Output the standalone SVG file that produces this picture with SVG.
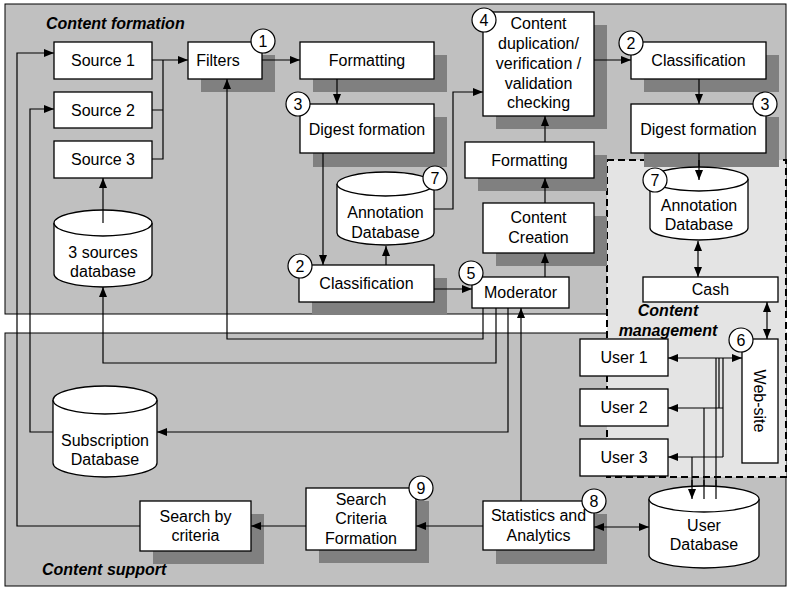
<svg xmlns="http://www.w3.org/2000/svg" width="789" height="589" viewBox="0 0 789 589">
<defs>
<marker id="ah" viewBox="0 0 10 8" refX="10" refY="4" markerWidth="10" markerHeight="8" markerUnits="userSpaceOnUse" orient="auto-start-reverse"><path d="M0,0 L10,4 L0,8 z" fill="#000"/></marker>
</defs>
<style>
text{font-family:"Liberation Sans",Arial,sans-serif;font-size:16px;fill:#000;text-anchor:middle}
.lbl{font-weight:bold;font-style:italic;text-anchor:start}
.lblc{font-weight:bold;font-style:italic}
.box{fill:#fff;stroke:#000;stroke-width:1.3}
.sh{fill:#808080}
.badge{fill:#fff;stroke:#000;stroke-width:1.2}
.cn{fill:none;stroke:#000;stroke-width:1.2}
.a{marker-end:url(#ah)}
.d{marker-start:url(#ah);marker-end:url(#ah)}
</style>
<rect width="789" height="589" fill="#fff"/>
<g id="panels">
<rect x="5" y="4" width="781" height="310" fill="#c0c0c0" stroke="#000" stroke-width="1"/>
<rect x="5" y="333" width="781" height="253" fill="#c0c0c0" stroke="#000" stroke-width="1"/>
<rect x="607" y="160" width="179" height="317" fill="#e4e4e4" stroke="#000" stroke-width="2" stroke-dasharray="7,4"/>
<text class="lbl" x="46" y="29">Content formation</text>
<text class="lbl" x="42" y="575">Content support</text>
</g>
<g id="shadows">
<rect class="sh" x="201" y="55" width="74" height="37"/>
<rect class="sh" x="313" y="55" width="134" height="37"/>
<rect class="sh" x="313" y="117" width="134" height="50"/>
<rect class="sh" x="312" y="278" width="135" height="37"/>
<rect class="sh" x="496" y="25" width="111" height="104"/>
<rect class="sh" x="478" y="155" width="129" height="36"/>
<rect class="sh" x="496" y="216" width="111" height="50"/>
<rect class="sh" x="644" y="55" width="135" height="37"/>
<rect class="sh" x="644" y="117" width="135" height="50"/>
<rect class="sh" x="153" y="514" width="111" height="50"/>
<rect class="sh" x="319" y="501" width="110" height="62"/>
<rect class="sh" x="496" y="514" width="111" height="50"/>
</g>
<g id="connectors">
<path class="cn a" d="M152,60 H188"/>
<path class="cn" d="M152,110 H163 V60 M152,159 H163 V110"/>
<path class="cn a" d="M262,60 H300"/>
<path class="cn a" d="M337,79 V104"/>
<path class="cn a" d="M323,153 V265"/>
<path class="cn a" d="M386,265 V246"/>
<path class="cn a" d="M434,289 H472"/>
<path class="cn a" d="M434,209 H453 V92 H483"/>
<path class="cn a" d="M545,277 V253"/>
<path class="cn a" d="M545,203 V178"/>
<path class="cn a" d="M545,142 V116"/>
<path class="cn a" d="M594,60 H631"/>
<path class="cn a" d="M699,79 V104"/>
<path class="cn a" d="M699,153 V180"/>
<path class="cn d" d="M698,241 V277"/>
<path class="cn d" d="M767,302 V339"/>
<path class="cn d" d="M668,358 H742"/>
<path class="cn" d="M723,358 V457 M719,358 V408"/>
<path class="cn a" d="M723,408 H668"/>
<path class="cn a" d="M723,457 H668"/>
<path class="cn a" d="M716,358 V499"/>
<path class="cn a" d="M704,408 V499"/>
<path class="cn a" d="M692,457 V499"/>
<path class="cn d" d="M594,527 H649"/>
<path class="cn a" d="M521,501 V308"/>
<path class="cn a" d="M483,526 H416"/>
<path class="cn a" d="M306,526 H251"/>
<path class="cn a" d="M140,526 H17 V53 H54"/>
<path class="cn a" d="M53,432 H30 V109 H54"/>
<path class="cn a" d="M496,308 V363 H103 V287"/>
<path class="cn a" d="M483,308 V339 H227 V79"/>
<path class="cn a" d="M508,308 V432 H157"/>
</g>
<g id="source1"><rect class="box" x="54" y="42" width="98" height="37"/><text x="103" y="66">Source 1</text></g>
<g id="source2"><rect class="box" x="54" y="92" width="98" height="36"/><text x="103" y="116">Source 2</text></g>
<g id="source3"><rect class="box" x="54" y="141" width="98" height="37"/><text x="103" y="165">Source 3</text></g>
<g id="sources-db">
<path class="box" d="M54,223 V274 A49,13 0 0 0 152,274 V223"/>
<ellipse class="box" cx="103" cy="223" rx="49" ry="13"/>
<text x="103" y="258">3 sources</text><text x="103" y="277">database</text>
<path class="cn a" d="M103,223 V178"/>
</g>
<g id="filters"><rect class="box" x="188" y="42" width="74" height="37"/><text x="218" y="66">Filters</text>
<circle class="badge" cx="263" cy="41" r="12"/><text x="263" y="47">1</text></g>
<g id="formatting1"><rect class="box" x="300" y="42" width="134" height="37"/><text x="367" y="66">Formatting</text></g>
<g id="digest1"><rect class="box" x="300" y="104" width="134" height="49"/><text x="367" y="135">Digest formation</text>
<circle class="badge" cx="298" cy="104" r="12"/><text x="298" y="110">3</text></g>
<g id="annotation-db1">
<path class="box" d="M337,184 V233 A48.5,12 0 0 0 434,233 V184"/>
<ellipse class="box" cx="385.5" cy="184" rx="48.5" ry="12"/>
<text x="385.5" y="218">Annotation</text><text x="385.5" y="238">Database</text>
<circle class="badge" cx="435" cy="178" r="12"/><text x="435" y="184">7</text></g>
<g id="classification1"><rect class="box" x="299" y="265" width="135" height="37"/><text x="366.5" y="289">Classification</text>
<circle class="badge" cx="300" cy="266" r="12"/><text x="300" y="272">2</text></g>
<g id="moderator"><rect class="box" x="472" y="277" width="97" height="31"/><text x="520.5" y="298">Moderator</text>
<circle class="badge" cx="471" cy="273" r="12"/><text x="471" y="279">5</text></g>
<g id="content-creation"><rect class="box" x="483" y="203" width="111" height="50"/><text x="538.5" y="223">Content</text><text x="538.5" y="243">Creation</text></g>
<g id="formatting2"><rect class="box" x="465" y="142" width="129" height="36"/><text x="529.5" y="166">Formatting</text></g>
<g id="content-dup"><rect class="box" x="483" y="12" width="111" height="104"/>
<text x="538.5" y="29">Content</text><text x="538.5" y="49">duplication/</text><text x="538.5" y="69">verification /</text><text x="538.5" y="89">validation</text><text x="538.5" y="108">checking</text>
<circle class="badge" cx="484" cy="20" r="12"/><text x="484" y="26">4</text></g>
<g id="classification2"><rect class="box" x="631" y="42" width="135" height="37"/><text x="698.5" y="66">Classification</text>
<circle class="badge" cx="631" cy="43" r="12"/><text x="631" y="49">2</text></g>
<g id="digest2"><rect class="box" x="631" y="104" width="135" height="49"/><text x="698.5" y="135">Digest formation</text>
<circle class="badge" cx="765" cy="104" r="12"/><text x="765" y="110">3</text></g>
<g id="annotation-db2">
<path class="box" d="M650,179 V228 A49,12 0 0 0 748,228 V179"/>
<ellipse class="box" cx="699" cy="179" rx="49" ry="12"/>
<text x="699" y="211">Annotation</text><text x="699" y="230">Database</text>
<circle class="badge" cx="655" cy="180" r="12"/><text x="655" y="186">7</text>
<path class="cn a" d="M699,160 V180"/></g>
<g id="cash"><rect class="box" x="643" y="277" width="135" height="25"/><text x="710.5" y="295">Cash</text></g>
<g id="content-management-label"><text class="lblc" x="668" y="316">Content</text><text class="lblc" x="668" y="336">management</text></g>
<g id="website"><rect class="box" x="742" y="339" width="36" height="124"/><text transform="translate(760,401) rotate(90)" x="0" y="6">Web-site</text>
<circle class="badge" cx="741" cy="340" r="12"/><text x="741" y="346">6</text></g>
<g id="user1"><rect class="box" x="580" y="339" width="88" height="37"/><text x="624" y="363">User 1</text></g>
<g id="user2"><rect class="box" x="580" y="389" width="88" height="37"/><text x="624" y="413">User 2</text></g>
<g id="user3"><rect class="box" x="580" y="439" width="88" height="37"/><text x="624" y="463">User 3</text></g>
<g id="subscription-db">
<path class="box" d="M53,400 V463 A52,14 0 0 0 157,463 V400"/>
<ellipse class="box" cx="105" cy="400" rx="52" ry="14"/>
<text x="105" y="446">Subscription</text><text x="105" y="465">Database</text></g>
<g id="user-db">
<path class="box" d="M649,499 V555 A55,13 0 0 0 759,555 V499"/>
<ellipse class="box" cx="704" cy="499" rx="55" ry="13"/>
<text x="704" y="531">User</text><text x="704" y="550">Database</text>
<path class="cn a" d="M716,480 V499 M704,480 V499 M692,480 V499"/></g>
<g id="search-by-criteria"><rect class="box" x="140" y="501" width="111" height="50"/><text x="195.5" y="522">Search by</text><text x="195.5" y="541">criteria</text></g>
<g id="search-criteria-formation"><rect class="box" x="306" y="488" width="110" height="62"/><text x="361" y="505">Search</text><text x="361" y="524">Criteria</text><text x="361" y="544">Formation</text>
<circle class="badge" cx="421" cy="488" r="12"/><text x="421" y="494">9</text></g>
<g id="statistics"><rect class="box" x="483" y="501" width="111" height="49"/><text x="538.5" y="521">Statistics and</text><text x="538.5" y="541">Analytics</text>
<circle class="badge" cx="594" cy="501" r="12"/><text x="594" y="507">8</text></g>
</svg>
